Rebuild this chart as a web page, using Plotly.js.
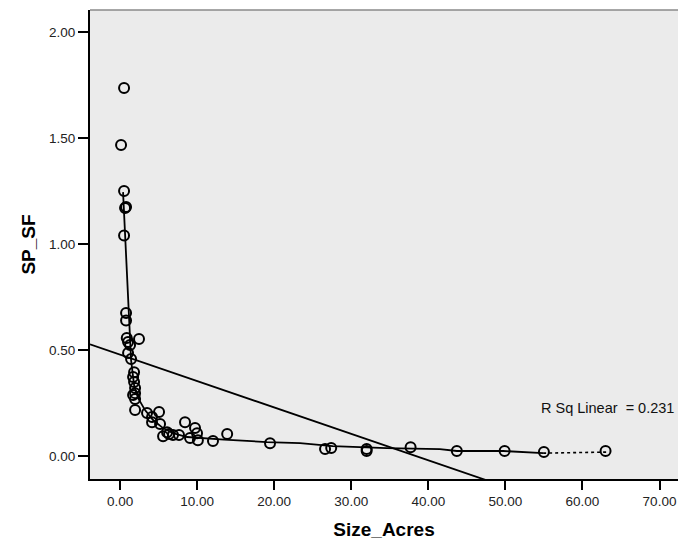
<!DOCTYPE html>
<html>
<head>
<meta charset="utf-8">
<script src="https://cdn.plot.ly/plotly-3.0.1.min.js"></script>
<style>html,body{margin:0;padding:0;background:#fff;}#chart{width:678px;height:548px;}</style>
</head>
<body>
<div id="chart"></div>
<script>
// Observed points: Size_Acres vs SP_SF
var sizeAcres = [0.52, 0.13, 0.52, 0.78, 0.65, 0.52, 0.78, 0.78, 0.87, 1.04, 2.46, 1.30, 1.04, 1.43,
  1.82, 1.69, 1.82, 1.95, 1.95, 1.69, 1.95, 1.95, 3.50, 4.15, 5.06, 4.15, 5.19, 5.58, 6.10, 6.36,
  6.87, 7.65, 8.43, 9.08, 9.73, 9.99, 10.10, 12.06, 13.90, 19.46, 26.60, 27.40, 32.00, 32.00,
  37.70, 43.70, 49.90, 55.00, 63.00];
var spSF = [1.736, 1.467, 1.25, 1.175, 1.17, 1.04, 0.675, 0.64, 0.557, 0.538, 0.552, 0.524, 0.486, 0.458,
  0.396, 0.373, 0.349, 0.321, 0.297, 0.288, 0.269, 0.217, 0.203, 0.184, 0.208, 0.160, 0.151, 0.094, 0.113, 0.104,
  0.099, 0.099, 0.160, 0.085, 0.132, 0.108, 0.075, 0.071, 0.104, 0.061, 0.033, 0.038, 0.033, 0.024,
  0.042, 0.024, 0.024, 0.019, 0.024];

// Smoothed fit line (solid part and dotted tail)
var fitX = [0.39, 0.91, 1.17, 1.43, 1.82, 2.33, 3.24, 4.28, 5.58, 6.87, 8.69, 11.28, 13.5, 19.07, 23.35, 27.6, 34.6, 41.5, 43.7, 49.7, 54.9];
var fitY = [1.245, 0.83, 0.594, 0.453, 0.335, 0.274, 0.217, 0.170, 0.132, 0.108, 0.090, 0.085, 0.078, 0.066, 0.061, 0.047, 0.038, 0.033, 0.024, 0.024, 0.014];
var tailX = [54.9, 63.3];
var tailY = [0.014, 0.019];

// Linear fit
var linIntercept = 0.479;
var linSlope = -0.01247;
var rSqLabel = 'R Sq Linear\u00a0\u00a0= 0.231';

var xRange = [-3.9, 72.4];
var yRange = [-0.108, 2.104];
var xTicks = [0, 10, 20, 30, 40, 50, 60, 70];
var yTicks = [0, 0.5, 1.0, 1.5, 2.0];

var linX = [xRange[0], xRange[1]];
var linY = linX.map(function (x) { return linIntercept + linSlope * x; });

var traces = [
  {x: linX, y: linY, mode: 'lines', line: {color: '#000', width: 1.8}, hoverinfo: 'skip'},
  {x: fitX, y: fitY, mode: 'lines', line: {color: '#000', width: 1.8}, hoverinfo: 'skip'},
  {x: tailX, y: tailY, mode: 'lines', line: {color: '#000', width: 1.6, dash: 'dot'}, hoverinfo: 'skip'},
  {x: sizeAcres, y: spSF, mode: 'markers',
   marker: {symbol: 'circle-open', size: 10, color: '#000', line: {width: 2, color: '#000'}}}
];

var tickFont = {family: 'Liberation Sans, Arial, sans-serif', size: 13.5, color: '#222'};
var titleFont = {family: 'Liberation Sans, Arial, sans-serif', size: 19, color: '#000', weight: 'bold'};

var layout = {
  width: 678, height: 548,
  margin: {l: 90, r: 0, t: 10, b: 69},
  paper_bgcolor: '#ffffff',
  plot_bgcolor: '#ebebeb',
  showlegend: false,
  xaxis: {
    range: xRange, tickvals: xTicks, tickformat: '.2f',
    showgrid: false, zeroline: false,
    showline: true, linecolor: '#000', linewidth: 2,
    ticks: 'outside', ticklen: 9, tickwidth: 2, tickcolor: '#000',
    tickfont: tickFont,
    title: {text: '<b>Size_Acres</b>', font: titleFont, standoff: 14}
  },
  yaxis: {
    range: yRange, tickvals: yTicks, tickformat: '.2f',
    showgrid: false, zeroline: false,
    showline: true, linecolor: '#000', linewidth: 2,
    ticks: 'outside', ticklen: 10, tickwidth: 2, tickcolor: '#000',
    tickfont: tickFont,
    title: {text: '<b>SP_SF</b>', font: titleFont, standoff: 8}
  },
  shapes: [
    {type: 'line', xref: 'paper', yref: 'paper', x0: 0, x1: 1, y0: 1, y1: 1,
     line: {color: '#8a8a8a', width: 1.5}}
  ],
  annotations: [
    {x: 54.4, y: 0.226, xref: 'x', yref: 'y', text: rSqLabel, showarrow: false,
     xanchor: 'left', yanchor: 'middle',
     font: {family: 'Liberation Sans, Arial, sans-serif', size: 14.5, color: '#111'}}
  ]
};

Plotly.newPlot('chart', traces, layout, {displayModeBar: false, staticPlot: true});
</script>
</body>
</html>
